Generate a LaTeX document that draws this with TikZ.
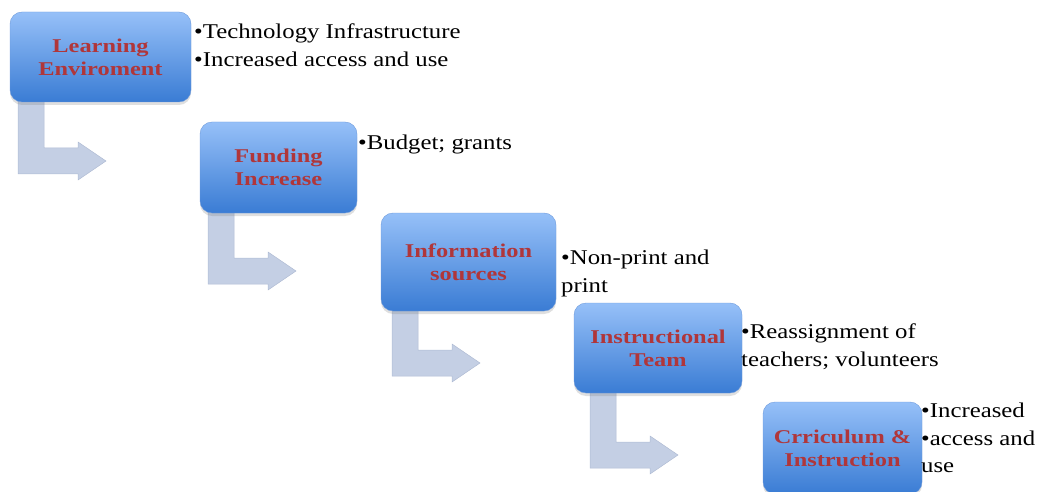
\documentclass[tikz,border=0pt]{standalone}
\usepackage{fontspec}
\setmainfont{Liberation Serif}
\newfontfamily\notefont[FakeStretch=1.18]{Liberation Serif}
\newfontfamily\stagefont[FakeStretch=1.25]{Liberation Serif}
\usetikzlibrary{calc,shadows}
\definecolor{boxtop}{RGB}{150,192,248}
\definecolor{boxbot}{RGB}{58,124,212}
\definecolor{boxedge}{RGB}{110,155,220}
\definecolor{labelred}{RGB}{176,54,58}
\definecolor{arrowfill}{RGB}{196,207,228}
\definecolor{arrowedge}{RGB}{176,188,212}
\tikzset{
  stage/.style={rounded corners=12pt, top color=boxtop, bottom color=boxbot,
    draw=boxedge, line width=0.4pt, align=center, inner sep=0pt,
    font=\stagefont\fontsize{19.5}{23}\selectfont\bfseries, text=labelred,
    drop shadow={shadow xshift=0pt, shadow yshift=-3pt, opacity=0.25}},
  bullets/.style={align=left, anchor=north west, inner sep=0pt,
    font=\notefont\fontsize{21}{27.5}\selectfont},
  bentarrow/.style={fill=arrowfill, draw=arrowedge, line width=0.5pt}
}
% draws the bent connector: #1 start coordinate, #2 drop to the horizontal bar
\newcommand\bentconn[2]{%
  \draw[bentarrow] (#1) -- ++(26,0) -- ++(0,-#2) -- ++(34,0) -- ++(0,6)
    -- ++(28,-19) -- ++(-28,-19) -- ++(0,6) -- ++(-60,0) -- cycle;}
\begin{document}
\begin{tikzpicture}[x=1pt,y=1pt]
\useasboundingbox (0,0) rectangle (1039,-492);
\clip (0,0) rectangle (1039,-492);

% bent connectors (drawn first, so boxes sit on top)
\coordinate (a1) at (18,-100);
\coordinate (a2) at (208,-211);
\coordinate (a3) at (392,-309);
\coordinate (a4) at (590,-391);
\bentconn{a1}{48}
\bentconn{a2}{47}
\bentconn{a3}{41}
\bentconn{a4}{51}

% stage boxes
\node[stage, minimum width=181pt, minimum height=90pt] (s1) at (100.5,-57)
  {Learning\\Enviroment};
\node[stage, minimum width=157pt, minimum height=91pt] (s2) at (278.5,-167.5)
  {Funding\\Increase};
\node[stage, minimum width=175pt, minimum height=98pt] (s3) at (468.5,-262)
  {Information\\sources};
\node[stage, minimum width=168pt, minimum height=90pt] (s4) at (658,-348)
  {Instructional\\Team};
\node[stage, minimum width=159pt, minimum height=92pt] (s5) at (842.5,-448)
  {Crriculum \&\\Instruction};

% bullet notes
\node[bullets] (t1) at (194,-24) {•Technology Infrastructure\\•Increased access and use};
\node[bullets] (t2) at (358,-135) {•Budget; grants};
\node[bullets] (t3) at (561,-250) {•Non-print and\\print};
\node[bullets] (t4) at (741,-324) {•Reassignment of\\teachers; volunteers};
\node[bullets] (t5) at (921,-403) {•Increased\\•access and\\use};
\end{tikzpicture}
\end{document}
